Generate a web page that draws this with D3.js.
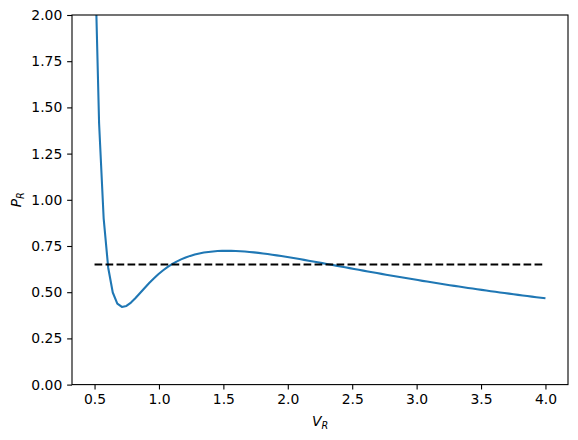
<!DOCTYPE html>
<html><head><meta charset="utf-8">
<script src="https://cdn.jsdelivr.net/npm/d3@7"></script>
<style>body{margin:0;background:#fff}svg{display:block}text{font-family:"DejaVu Sans",sans-serif}</style>
</head><body><svg id="c" width="578" height="440"></svg>
<script>
// Isotherm data (V_R sampled 0.5..4.0, 100 points)
const vStart = 0.5, vEnd = 4.0, nPts = 100;
const pR = [2.4,1.4126,0.9000,0.6325,0.4983,0.4382,0.4202,0.4257,0.4439,0.4685,
0.4957,0.5231,0.5495,0.5743,0.5970,0.6174,0.6355,0.6515,0.6655,0.6775,
0.6878,0.6965,0.7038,0.7097,0.7144,0.7180,0.7207,0.7225,0.7236,0.7240,
0.7238,0.7230,0.7217,0.7200,0.7179,0.7155,0.7128,0.7097,0.7065,0.7030,
0.6994,0.6956,0.6917,0.6877,0.6835,0.6793,0.6750,0.6707,0.6663,0.6618,
0.6573,0.6529,0.6484,0.6438,0.6393,0.6347,0.6303,0.6258,0.6213,0.6168,
0.6124,0.6079,0.6036,0.5992,0.5948,0.5906,0.5863,0.5821,0.5779,0.5737,
0.5696,0.5655,0.5614,0.5574,0.5535,0.5495,0.5457,0.5419,0.5380,0.5342,
0.5306,0.5268,0.5232,0.5195,0.5160,0.5125,0.5090,0.5056,0.5021,0.4988,
0.4954,0.4922,0.4889,0.4856,0.4825,0.4793,0.4761,0.4731,0.4700,0.4670];
const vR = pR.map((_, i) => vStart + i * (vEnd - vStart) / (nPts - 1));
const dashX = [0.5, 4.0];
const dashY = [0.65, 0.65];
const xTicks = [0.5, 1.0, 1.5, 2.0, 2.5, 3.0, 3.5, 4.0];
const yTicks = [0, 0.25, 0.5, 0.75, 1.0, 1.25, 1.5, 1.75, 2.0];

const L = 72, R = 568, T = 15, B = 384.6;
const svg = d3.select("#c");
const x = d3.scaleLinear().domain([0.325, 4.175]).range([L, R]);
const y = d3.scaleLinear().domain([0, 2]).range([B, T]);

svg.append("defs").append("clipPath").attr("id", "clip")
  .append("rect").attr("x", L).attr("y", T).attr("width", R - L).attr("height", B - T);

const g = svg.append("g").attr("clip-path", "url(#clip)");
g.append("path").datum(vR.map((v, i) => [v, pR[i]]))
  .attr("d", d3.line().x(d => x(d[0])).y(d => y(d[1])))
  .attr("fill", "none").attr("stroke", "#1f77b4").attr("stroke-width", 2.08)
  .attr("stroke-linejoin", "round").attr("stroke-linecap", "butt");
g.append("path").datum(dashX.map((v, i) => [v, dashY[i]]))
  .attr("d", d3.line().x(d => x(d[0])).y(d => y(d[1])))
  .attr("fill", "none").attr("stroke", "#000").attr("stroke-width", 2.08)
  .attr("stroke-dasharray", "7.7,3.3");

const xa = svg.append("g").attr("transform", `translate(0,${B})`)
  .call(d3.axisBottom(x).tickValues(xTicks).tickFormat(d3.format(".1f")).tickSizeOuter(0).tickSize(4.86).tickPadding(4.86));
const ya = svg.append("g").attr("transform", `translate(${L},0)`)
  .call(d3.axisLeft(y).tickValues(yTicks).tickFormat(d3.format(".2f")).tickSizeOuter(0).tickSize(4.86).tickPadding(4.86));
[xa, ya].forEach(a => {
  a.select(".domain").remove();
  a.selectAll("line").attr("stroke", "#000").attr("stroke-width", 1.1);
  a.selectAll("text").attr("fill", "#000").style("font-size", "13.9px").style("font-family", "DejaVu Sans");
});

svg.append("rect").attr("x", L).attr("y", T).attr("width", R - L).attr("height", B - T)
  .attr("fill", "none").attr("stroke", "#000").attr("stroke-width", 1.1);

const xl = svg.append("text").attr("x", (L + R) / 2).attr("y", 426).attr("text-anchor", "middle").style("font-size", "13.9px");
xl.append("tspan").text("V").style("font-style", "italic");
xl.append("tspan").text("R").style("font-style", "italic").style("font-size", "9.7px").attr("dy", 2.5);

const yl = svg.append("text").attr("transform", `translate(21,${(T + B) / 2}) rotate(-90)`).attr("text-anchor", "middle").style("font-size", "13.9px");
yl.append("tspan").text("P").style("font-style", "italic");
yl.append("tspan").text("R").style("font-style", "italic").style("font-size", "9.7px").attr("dy", 2.5);
</script></body></html>
